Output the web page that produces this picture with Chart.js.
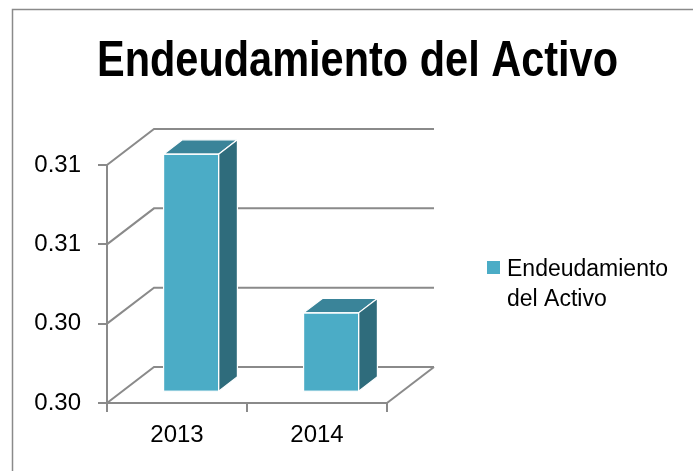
<!DOCTYPE html>
<html>
<head>
<meta charset="utf-8">
<script src="https://cdn.jsdelivr.net/npm/chart.js@4/dist/chart.umd.min.js"></script>
<style>
  body { margin: 0; background: #fff; }
  canvas { display: block; }
</style>
</head>
<body>
<canvas id="chart" width="693" height="471"></canvas>
<script>
// Data
const years = ['2013', '2014'];
const debtRatio = [0.308, 0.304];
const seriesLabel = 'Endeudamiento del Activo';
const chartTitle = 'Endeudamiento del Activo';
const yMin = 0.302;
const yMax = 0.308;
const yStep = 0.002;

// 3D look
const DEPTH_X = 47;
const DEPTH_Y = 36;
const BAR_FRONT = 0.3;   // bar front sits 30% into the depth
const BAR_DEPTH = 0.4;   // bar takes 40% of the depth
const GRID = '#8a8a8a';
const FRONT = '#4bacc6';
const TOP = '#3a8499';
const SIDE = '#2f6c7c';
const FONT = "'Liberation Sans', Arial, sans-serif";

const depth3d = {
  id: 'depth3d',
  beforeDraw(chart) {
    const ctx = chart.ctx;
    ctx.save();
    ctx.fillStyle = '#fff';
    ctx.fillRect(0, 0, chart.width, chart.height);
    ctx.strokeStyle = GRID;
    ctx.lineWidth = 1.5;
    ctx.strokeRect(12.5, 9.5, chart.width + 20, chart.height + 20);
    ctx.restore();
  },
  beforeDatasetsDraw(chart) {
    const { ctx, chartArea: a, scales: { y } } = chart;
    ctx.save();
    ctx.strokeStyle = GRID;
    ctx.lineWidth = 2;
    // side wall + back wall lines
    y.ticks.forEach(t => {
      const py = y.getPixelForValue(t.value);
      ctx.beginPath();
      ctx.moveTo(a.left, py);
      ctx.lineTo(a.left + DEPTH_X, py - DEPTH_Y);
      ctx.lineTo(a.right + DEPTH_X, py - DEPTH_Y);
      ctx.stroke();
    });
    // floor right edge
    ctx.beginPath();
    ctx.moveTo(a.right, a.bottom);
    ctx.lineTo(a.right + DEPTH_X, a.bottom - DEPTH_Y);
    ctx.stroke();
    ctx.restore();

    // push bars into the depth
    ctx.save();
    ctx.translate(DEPTH_X * BAR_FRONT, -DEPTH_Y * BAR_FRONT);
  },
  afterDatasetsDraw(chart) {
    const ctx = chart.ctx;
    const dx = DEPTH_X * BAR_DEPTH;
    const dy = DEPTH_Y * BAR_DEPTH;
    chart.getDatasetMeta(0).data.forEach(bar => {
      const { x, y, base, width } = bar.getProps(['x', 'y', 'base', 'width'], true);
      const x1 = x - width / 2;
      const x2 = x + width / 2;
      ctx.strokeStyle = '#fff';
      ctx.lineWidth = 1.2;
      // top face
      ctx.beginPath();
      ctx.moveTo(x1, y);
      ctx.lineTo(x1 + dx, y - dy);
      ctx.lineTo(x2 + dx, y - dy);
      ctx.lineTo(x2, y);
      ctx.closePath();
      ctx.fillStyle = TOP;
      ctx.fill();
      ctx.stroke();
      // side face
      ctx.beginPath();
      ctx.moveTo(x2, y);
      ctx.lineTo(x2 + dx, y - dy);
      ctx.lineTo(x2 + dx, base - dy);
      ctx.lineTo(x2, base);
      ctx.closePath();
      ctx.fillStyle = SIDE;
      ctx.fill();
      ctx.stroke();
      // front outline
      ctx.strokeRect(x1, y, width, base - y);
    });
    ctx.restore();
  },
  afterDraw(chart) {
    const ctx = chart.ctx;
    ctx.save();
    // title, squeezed to the reference width if no narrow face is found
    ctx.font = "bold 50px 'Liberation Sans Narrow', 'Arial Narrow', " + FONT;
    ctx.fillStyle = '#000';
    ctx.textBaseline = 'alphabetic';
    ctx.textAlign = 'left';
    const w = ctx.measureText(chartTitle).width;
    const target = 521;
    const sx = Math.min(1, target / w);
    ctx.translate(357.5 - (w * sx) / 2, 76);
    ctx.scale(sx, 1);
    ctx.fillText(chartTitle, 0, 0);
    ctx.restore();

    // legend (two lines like the reference)
    ctx.save();
    const ds = chart.data.datasets[0];
    ctx.fillStyle = ds.backgroundColor;
    ctx.fillRect(487, 261, 13, 13);
    ctx.font = '23px ' + FONT;
    ctx.fillStyle = '#000';
    const words = ds.label.split(' ');
    const lines = [words[0], words.slice(1).join(' ')];
    lines.forEach((ln, i) => ctx.fillText(ln, 507, 276 + i * 30));
    ctx.restore();
  }
};

new Chart(document.getElementById('chart'), {
  type: 'bar',
  data: {
    labels: years,
    datasets: [{
      label: seriesLabel,
      data: debtRatio,
      base: yMin,
      backgroundColor: FRONT,
      borderWidth: 0,
      categoryPercentage: 1,
      barPercentage: 0.393,
      clip: false
    }]
  },
  options: {
    responsive: false,
    animation: false,
    layout: { padding: { top: 165, left: 0, right: 306, bottom: 28 } },
    plugins: {
      legend: { display: false },
      title: { display: false },
      tooltip: { enabled: false }
    },
    scales: {
      x: {
        afterFit(s) { s.height = 40; },
        grid: { drawOnChartArea: false, drawTicks: true, tickLength: 9, color: GRID, lineWidth: 2 },
        border: { color: GRID, width: 2 },
        ticks: { color: '#000', font: { family: FONT, size: 24 }, padding: 9 }
      },
      y: {
        min: yMin,
        max: yMax,
        afterFit(s) { s.width = 107; },
        grid: { drawOnChartArea: false, drawTicks: true, tickLength: 9, color: GRID, lineWidth: 2 },
        border: { color: GRID, width: 2 },
        ticks: {
          stepSize: yStep,
          color: '#000',
          font: { family: FONT, size: 24 },
          padding: 17,
          callback: v => v.toFixed(2)
        }
      }
    }
  },
  plugins: [depth3d]
});
</script>
</body>
</html>
